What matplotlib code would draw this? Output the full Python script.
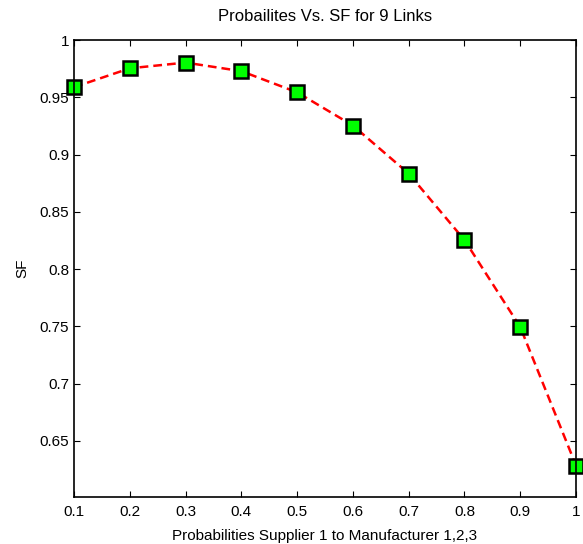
import numpy as np
import matplotlib.pyplot as plt

# Probability values and SF readings
prob = [0.1, 0.2, 0.3, 0.4, 0.5, 0.6, 0.7, 0.8, 0.9, 1.0]
sf = [0.959, 0.9755, 0.9805, 0.973, 0.9545, 0.9255, 0.8835, 0.8255, 0.7495, 0.6285]

xticks = [0.1, 0.2, 0.3, 0.4, 0.5, 0.6, 0.7, 0.8, 0.9, 1.0]
xticklabels = ['0.1', '0.2', '0.3', '0.4', '0.5', '0.6', '0.7', '0.8', '0.9', '1']
yticks = [0.65, 0.7, 0.75, 0.8, 0.85, 0.9, 0.95, 1.0]
yticklabels = ['0.65', '0.7', '0.75', '0.8', '0.85', '0.9', '0.95', '1']

plt.rcParams['font.family'] = ['Liberation Sans', 'DejaVu Sans']

fig = plt.figure(figsize=(5.83, 5.44), dpi=100)
ax = fig.add_axes([0.127, 0.0864, 0.861, 0.8396])

ax.plot(prob, sf, '--', color='red', linewidth=1.8, dashes=(3.5, 2),
        marker='s', markersize=9.5, markerfacecolor='#00ff00',
        markeredgecolor='black', markeredgewidth=1.8, clip_on=False)

ax.set_xlim(0.1, 1.0)
ax.set_ylim(0.601, 1.0)
ax.set_xticks(xticks)
ax.set_xticklabels(xticklabels)
ax.set_yticks(yticks)
ax.set_yticklabels(yticklabels)
ax.tick_params(direction='in', top=True, right=True, labelsize=11, length=4, width=0.8)
ax.tick_params(axis='x', pad=6)
for s in ax.spines.values():
    s.set_linewidth(1.2)

ax.set_title('Probailites Vs. SF for 9 Links', fontsize=12, pad=14)
ax.set_xlabel('Probabilities Supplier 1 to Manufacturer 1,2,3', fontsize=11, labelpad=7)
ax.set_ylabel('SF', fontsize=11, labelpad=7)

fig.savefig('out.png', dpi=100)
